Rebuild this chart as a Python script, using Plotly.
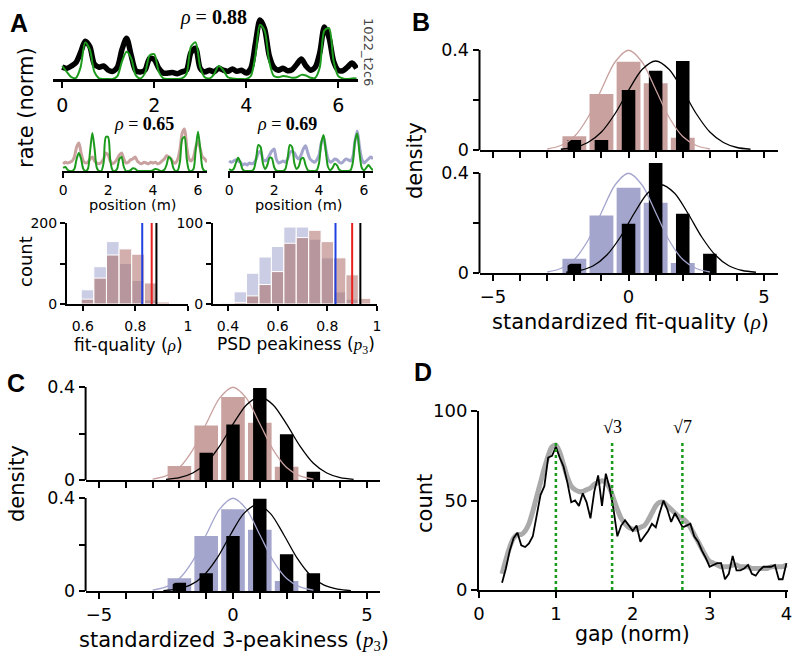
import plotly.graph_objects as go

W, H = 800, 660
FONT = "DejaVu Sans"
SERIF = "Liberation Serif"
GREEN = "#1c9a1c"
BROWN = "#c9a19f"
PURPLE = "#a3a5cd"
HIST_PURPLE = "rgba(150,155,200,0.5)"
HIST_BROWN = "rgba(165,95,90,0.5)"

# ---------------- panel A: rate maps (normalized), position in metres
POS = [0.0, 0.1, 0.2, 0.3, 0.4, 0.5, 0.6, 0.7, 0.8, 0.9,
       1.0, 1.1, 1.2, 1.3, 1.4, 1.5, 1.6, 1.7, 1.8, 1.9,
       2.0, 2.1, 2.2, 2.3, 2.4, 2.5, 2.6, 2.7, 2.8, 2.9,
       3.0, 3.1, 3.2, 3.3, 3.4, 3.5, 3.6, 3.7, 3.8, 3.9,
       4.0, 4.1, 4.2, 4.3, 4.4, 4.5, 4.6, 4.7, 4.8, 4.9,
       5.0, 5.1, 5.2, 5.3, 5.4, 5.5, 5.6, 5.7, 5.8, 5.9,
       6.0, 6.1, 6.2, 6.3, 6.4]

top_rate = [0.20, 0.18, 0.22, 0.28, 0.45, 0.64, 0.55, 0.25, 0.20, 0.22,
            0.15, 0.13, 0.20, 0.50, 0.69, 0.40, 0.14, 0.12, 0.15, 0.35,
            0.33, 0.18, 0.10, 0.10, 0.11, 0.09, 0.12, 0.15, 0.45, 0.52,
            0.18, 0.12, 0.15, 0.12, 0.18, 0.15, 0.13, 0.17, 0.13, 0.15,
            0.10, 0.18, 0.60, 1.00, 0.85, 0.40, 0.20, 0.15, 0.18, 0.14,
            0.16, 0.25, 0.34, 0.22, 0.15, 0.20, 0.45, 0.88, 0.70, 0.30,
            0.15, 0.14, 0.20, 0.27, 0.18]
top_fit = [0.22, 0.12, 0.03, 0.02, 0.20, 0.62, 0.50, 0.12, 0.01, 0.00,
           0.00, 0.00, 0.05, 0.30, 0.46, 0.35, 0.06, 0.01, 0.10, 0.40,
           0.42, 0.12, 0.01, 0.00, 0.00, 0.00, 0.01, 0.08, 0.55, 0.62,
           0.20, 0.03, 0.01, 0.08, 0.22, 0.15, 0.03, 0.01, 0.00, 0.00,
           0.00, 0.05, 0.40, 0.92, 0.82, 0.30, 0.05, 0.03, 0.05, 0.04,
           0.02, 0.03, 0.07, 0.06, 0.02, 0.02, 0.20, 0.82, 0.86, 0.30,
           0.05, 0.01, 0.00, 0.01, 0.01]

left_rate = [0.18, 0.22, 0.20, 0.22, 0.25, 0.35, 0.60, 0.70, 0.45, 0.25,
             0.20, 0.22, 0.30, 0.35, 0.25, 0.20, 0.18, 0.22, 0.30, 0.45,
             0.40, 0.25, 0.18, 0.22, 0.30, 0.40, 0.45, 0.30, 0.20, 0.22,
             0.28, 0.30, 0.35, 0.25, 0.20, 0.18, 0.22, 0.20, 0.18, 0.22,
             0.20, 0.22, 0.18, 0.20, 0.25, 0.30, 0.38, 0.35, 0.30, 0.22,
             0.20, 0.30, 0.55, 0.95, 1.05, 0.60, 0.30, 0.25, 0.35, 0.60,
             0.75, 0.55, 0.35, 0.30, 0.22]
left_fit = [0.08, 0.10, 0.03, 0.00, 0.00, 0.05, 0.30, 0.45, 0.30, 0.05,
            0.00, 0.05, 0.50, 0.95, 0.55, 0.08, 0.00, 0.00, 0.20, 0.85,
            0.85, 0.25, 0.02, 0.00, 0.05, 0.30, 0.35, 0.10, 0.00, 0.00,
            0.02, 0.07, 0.06, 0.01, 0.00, 0.00, 0.00, 0.00, 0.00, 0.00,
            0.02, 0.05, 0.04, 0.01, 0.00, 0.03, 0.15, 0.35, 0.30, 0.08,
            0.00, 0.02, 0.25, 0.80, 0.85, 0.30, 0.02, 0.00, 0.05, 0.55,
            0.98, 0.55, 0.08, 0.00, 0.00]

right_rate = [0.25, 0.22, 0.25, 0.28, 0.25, 0.22, 0.15, 0.18, 0.15, 0.20,
              0.18, 0.20, 0.30, 0.45, 0.50, 0.30, 0.25, 0.30, 0.40, 0.50,
              0.55, 0.30, 0.20, 0.22, 0.25, 0.22, 0.30, 0.45, 0.50, 0.45,
              0.35, 0.30, 0.40, 0.55, 0.63, 0.45, 0.30, 0.25, 0.22, 0.28,
              0.40, 0.70, 0.85, 0.55, 0.30, 0.22, 0.25, 0.30, 0.28, 0.22,
              0.20, 0.25, 0.30, 0.28, 0.25, 0.35, 0.75, 1.00, 0.60, 0.30,
              0.20, 0.25, 0.30, 0.35, 0.30]
right_fit = [0.05, 0.02, 0.05, 0.20, 0.33, 0.22, 0.04, 0.00, 0.00, 0.00,
             0.00, 0.05, 0.30, 0.65, 0.60, 0.20, 0.05, 0.15, 0.33, 0.32,
             0.10, 0.01, 0.00, 0.00, 0.00, 0.05, 0.30, 0.65, 0.60, 0.20,
             0.05, 0.12, 0.30, 0.33, 0.15, 0.02, 0.00, 0.00, 0.00, 0.02,
             0.20, 0.70, 0.90, 0.50, 0.10, 0.02, 0.08, 0.18, 0.14, 0.03,
             0.00, 0.00, 0.00, 0.00, 0.02, 0.20, 0.75, 0.94, 0.45, 0.08,
             0.02, 0.08, 0.15, 0.08, 0.02]

# fit-quality histograms (counts)
rho_bins = [0.618, 0.666, 0.714, 0.762, 0.810, 0.858, 0.906]
rho_purple = [35, 92, 154, 100, 58, 10, 0]
rho_brown = [12, 64, 121, 136, 123, 52, 5]
rho_marks = [0.826, 0.862, 0.880]

# PSD peakiness histograms (counts)
p3_bins = [0.40, 0.45, 0.50, 0.55, 0.60, 0.65, 0.70, 0.75, 0.80, 0.85, 0.90, 0.95]
p3_purple = [2, 15, 38, 58, 71, 95, 95, 80, 57, 15, 6, 0]
p3_brown = [0, 2, 10, 24, 40, 75, 82, 91, 77, 57, 36, 7]
p3_marks = [0.833, 0.900, 0.933]
mark_colors = ["#2040e0", "#e82020", "#000000"]

# ---------------- panels B, C: standardized scores (density)
shuf_bins = [-2, -1, 0, 1, 2]
real_bins = [-2, -1, 0, 1, 2, 3]
b_top_shuf = [0.055, 0.224, 0.353, 0.267, 0.049]
b_top_real = [0.040, 0.040, 0.240, 0.317, 0.356, 0.0]
b_bot_shuf = [0.057, 0.230, 0.341, 0.281, 0.040]
b_bot_real = [0.037, 0.0, 0.197, 0.440, 0.237, 0.077]
c_top_shuf = [0.060, 0.234, 0.357, 0.246, 0.057]
c_top_real = [0.0, 0.117, 0.239, 0.396, 0.197, 0.036]
c_bot_shuf = [0.055, 0.237, 0.352, 0.263, 0.043]
c_bot_real = [0.036, 0.076, 0.237, 0.397, 0.158, 0.076]

norm_x = [-3, -2.5, -2, -1.5, -1, -0.5, 0, 0.5, 1, 1.5, 2, 2.5, 3]
norm_y = [0.004, 0.018, 0.054, 0.130, 0.242, 0.352, 0.399, 0.352, 0.242, 0.130, 0.054, 0.018, 0.004]
fit_b_top_x = [-2.5, -2, -1.5, -1, -0.5, 0, 0.5, 1, 1.5, 2, 2.5, 3, 3.5, 4, 4.5]
fit_b_top_y = [0.003, 0.010, 0.030, 0.072, 0.145, 0.239, 0.322, 0.356, 0.322, 0.239, 0.145, 0.072, 0.030, 0.010, 0.003]
fit_b_bot_x = [-2.3, -1.8, -1.3, -0.8, -0.3, 0.2, 0.7, 1.2, 1.7, 2.2, 2.7, 3.2, 3.7, 4.2, 4.7]
fit_b_bot_y = [0.003, 0.010, 0.029, 0.072, 0.144, 0.237, 0.319, 0.353, 0.319, 0.237, 0.144, 0.072, 0.029, 0.010, 0.003]
fit_c_top_x = [-2.5, -2, -1.5, -1, -0.5, 0, 0.5, 1, 1.5, 2, 2.5, 3, 3.5, 4, 4.5]
fit_c_top_y = [0.003, 0.010, 0.030, 0.072, 0.146, 0.240, 0.323, 0.357, 0.323, 0.240, 0.146, 0.072, 0.030, 0.010, 0.003]
fit_c_bot_x = [-2.6, -2.1, -1.6, -1.1, -0.6, -0.1, 0.4, 0.9, 1.4, 1.9, 2.4, 2.9, 3.4, 3.9, 4.4]
fit_c_bot_y = [0.002, 0.008, 0.025, 0.066, 0.140, 0.241, 0.333, 0.371, 0.333, 0.241, 0.140, 0.066, 0.025, 0.008, 0.002]

# ---------------- panel D: gap distribution
gap = [0.30, 0.35, 0.40, 0.45, 0.50, 0.55, 0.60, 0.65, 0.70, 0.75,
       0.80, 0.85, 0.90, 0.95, 1.00, 1.05, 1.10, 1.15, 1.20, 1.25,
       1.30, 1.35, 1.40, 1.45, 1.50, 1.55, 1.60, 1.65, 1.70, 1.75,
       1.80, 1.85, 1.90, 1.95, 2.00, 2.05, 2.10, 2.15, 2.20, 2.25,
       2.30, 2.35, 2.40, 2.45, 2.50, 2.55, 2.60, 2.65, 2.70, 2.75,
       2.80, 2.85, 2.90, 2.95, 3.00, 3.05, 3.10, 3.15, 3.20, 3.25,
       3.30, 3.35, 3.40, 3.45, 3.50, 3.55, 3.60, 3.65, 3.70, 3.75,
       3.80, 3.85, 3.90, 3.95, 4.00]
gap_count = [4, 12, 22, 29, 32, 25, 24, 26, 30, 41,
             53, 58, 74, 75, 80, 74, 69, 60, 49, 50,
             47, 54, 49, 40, 55, 64, 47, 65, 57, 45,
             30, 36, 39, 36, 33, 36, 27, 30, 33, 37,
             35, 43, 50, 45, 38, 43, 39, 35, 36, 37,
             30, 27, 22, 18, 13, 14, 15, 15, 6, 9,
             19, 11, 11, 12, 14, 9, 8, 11, 13, 13,
             13, 14, 6, 6, 15]
gap_smooth = [9, 17, 24, 29, 31, 31, 33, 37, 44, 52,
              60, 68, 75, 80, 81, 77, 70, 63, 58, 56,
              55, 55, 56, 57, 59, 60, 61, 60, 57, 51,
              45, 40, 37, 35, 34, 34, 35, 36, 39, 43,
              47, 49, 49, 47, 45, 43, 41, 40, 38, 35,
              31, 27, 23, 19, 16, 15, 14, 13, 13, 13,
              14, 14, 13, 13, 13, 12, 12, 12, 12, 12,
              13, 13, 13, 13, 14]
lattice_gaps = [1.0, 1.732, 2.646]
lattice_labels = ["", "√3", "√7"]
lattice_top = 83


def px(x):
    return x / W


def py(y):
    return 1 - y / H


fig = go.Figure()
axes = {}


def ref(n):
    s = "" if n == 1 else str(n)
    return "x" + s, "y" + s


def set_axes(n, xa, ya):
    s = "" if n == 1 else str(n)
    xa.setdefault("anchor", "y" + s)
    ya.setdefault("anchor", "x" + s)
    axes["xaxis" + s] = xa
    axes["yaxis" + s] = ya


def axis(domain, rng, size=18, **kw):
    d = dict(domain=domain, range=rng, showgrid=False, zeroline=False, showline=True,
             linecolor="black", linewidth=2, ticks="outside", ticklen=6, tickwidth=2,
             tickcolor="black", tickfont=dict(family=FONT, size=size, color="black"),
             automargin=False)
    d.update(kw)
    return d


def hidden(domain, rng):
    return dict(domain=domain, range=rng, visible=False, automargin=False)


def line(n, x, y, color, width, shape="spline", dash="solid"):
    xr, yr = ref(n)
    fig.add_trace(go.Scatter(x=x, y=y, mode="lines", xaxis=xr, yaxis=yr,
                             line=dict(color=color, width=width, shape=shape, dash=dash,
                                       smoothing=0.8 if shape == "spline" else None),
                             hoverinfo="skip"))


def bars(n, x, y, color, width, line_color=None):
    xr, yr = ref(n)
    fig.add_trace(go.Bar(x=x, y=y, width=width, xaxis=xr, yaxis=yr, marker_color=color,
                         marker_line=dict(color=line_color or color, width=1 if line_color else 0),
                         hoverinfo="skip"))


def text(s, x, y, size=21, angle=0, family=FONT, color="black", xanchor="center"):
    fig.add_annotation(text=s, x=px(x), y=py(y), xref="paper", yref="paper", showarrow=False,
                       textangle=angle, font=dict(family=family, size=size, color=color),
                       xanchor=xanchor, yanchor="middle")


# A top
set_axes(1, axis([px(53), px(358)], [-0.2, 6.43], size=19, linewidth=2.5,
                 tickvals=[0, 2, 4, 6], ticklabelstandoff=1),
         hidden([py(79), py(17)], [0, 1.05]))
line(1, POS, top_rate, "black", 5.5)
line(1, POS, top_fit, GREEN, 2)

# A middle
for n, rate, fit, col in [(2, left_rate, left_fit, BROWN), (3, right_rate, right_fit, PURPLE)]:
    x0 = 62 if n == 2 else 228
    set_axes(n, axis([px(x0), px(x0 + 145)], [-0.05, 6.4], size=14, ticklen=5,
                     tickvals=[0, 2, 4, 6]),
             hidden([py(171), py(127)], [0, 1.1]))
    line(n, POS, rate, col, 3)
    line(n, POS, fit, GREEN, 2)

# A histograms
set_axes(4, axis([px(67), px(188)], [0.54, 1.0], size=14, ticklen=5,
                 tickvals=[0.6, 0.8, 1.0], ticktext=["0.6", "0.8", "1"], ticklabelstandoff=3),
         axis([py(304), py(223)], [0, 200], size=14, ticklen=5,
              tickvals=[0, 100, 200], ticktext=["0", "", "200"]))
bars(4, rho_bins, rho_purple, HIST_PURPLE, 0.048, "white")
bars(4, rho_bins, rho_brown, HIST_BROWN, 0.048, "white")
for v, c in zip(rho_marks, mark_colors):
    line(4, [v, v], [0, 200], c, 2, shape="linear")

set_axes(5, axis([px(213), px(377)], [0.34, 1.0], size=14, ticklen=5,
                 tickvals=[0.4, 0.6, 0.8, 1.0], ticktext=["0.4", "0.6", "0.8", "1"],
                 ticklabelstandoff=3),
         axis([py(304), py(223)], [0, 100], size=14, ticklen=5,
              tickvals=[0, 50, 100], ticktext=["0", "", "100"]))
bars(5, p3_bins, p3_purple, HIST_PURPLE, 0.05, "white")
bars(5, p3_bins, p3_brown, HIST_BROWN, 0.05, "white")
for v, c in zip(p3_marks, mark_colors):
    line(5, [v, v], [0, 100], c, 2, shape="linear")

# B and C density panels
ticks11 = [-5, -4, -3, -2, -1, 0, 1, 2, 3, 4, 5]
labels11 = ["−5", "", "", "", "", "0", "", "", "", "", "5"]
density_panels = [
    (6, [479.5, 777.6], [150, 37.5], b_top_shuf, b_top_real, BROWN, fit_b_top_x, fit_b_top_y, False),
    (7, [479.5, 777.6], [273, 160.5], b_bot_shuf, b_bot_real, PURPLE, fit_b_bot_x, fit_b_bot_y, True),
    (8, [85.6, 380.4], [480, 375.4], c_top_shuf, c_top_real, BROWN, fit_c_top_x, fit_c_top_y, False),
    (9, [85.6, 380.4], [591, 486.4], c_bot_shuf, c_bot_real, PURPLE, fit_c_bot_x, fit_c_bot_y, True),
]
for n, xd, yd, shuf, real, col, fx, fy, lab in density_panels:
    set_axes(n, axis([px(xd[0]), px(xd[1])], [-5.5, 5.5], tickvals=ticks11,
                     ticktext=labels11, showticklabels=lab),
             axis([py(yd[0]), py(yd[1])], [0, 0.45], showline=False, size=17.5,
                  tickvals=[0, 0.2, 0.4], ticktext=["0", "", "0.4"]))
    bars(n, shuf_bins, shuf, col, 0.88)
    bars(n, real_bins, real, "black", 0.5)
    line(n, norm_x, norm_y, col, 1.3)
    line(n, fx, fy, "black", 1.3)
    fig.add_shape(type="line", xref=f"x{n} domain", yref=f"y{n}", x0=0, x1=0, y0=0, y1=0.4,
                  line=dict(color="black", width=2))

# D
set_axes(10, axis([px(479), px(788)], [0, 4.02], tickvals=[0, 1, 2, 3, 4]),
         axis([py(590), py(411)], [0, 100], tickvals=[0, 50, 100]))
line(10, gap, gap_smooth, "#aaaaaa", 5)
line(10, gap, gap_count, "black", 1.8, shape="linear")
for g, lbl in zip(lattice_gaps, lattice_labels):
    line(10, [g, g], [0, lattice_top], GREEN, 2.5, shape="linear", dash="dot")
    if lbl:
        fig.add_annotation(text=lbl, x=g, y=lattice_top + 8, xref="x10", yref="y10",
                           showarrow=False, font=dict(family=SERIF, size=18, color="black"))

# labels
for s, x, y in [("A", 8, 23), ("B", 410, 22), ("C", 5, 383), ("D", 412, 372)]:
    text(f"<b>{s}</b>", x, y, size=25, family="Liberation Sans", xanchor="left")

rho = f"<span style='font-family:{SERIF}'><i>ρ</i></span>"
p3 = f"<span style='font-family:{SERIF}'><i>p</i><sub>3</sub></span>"
text("rate (norm)", 26, 108, size=21, angle=-90)
text("<i>ρ</i> = <b>0.88</b>", 213, 18, size=20, family=SERIF)
text("1022_t2c6", 368, 52, size=13, angle=90, color="#444444")
text("<i>ρ</i> = <b>0.65</b>", 144, 124, size=18, family=SERIF)
text("<i>ρ</i> = <b>0.69</b>", 287, 124, size=18, family=SERIF)
text("position (m)", 132, 205, size=14.5)
text("position (m)", 298, 205, size=14.5)
text("count", 25, 262, size=18, angle=-90)
text(f"fit-quality ({rho})", 128, 345, size=17)
text(f"PSD peakiness ({p3})", 296, 345, size=17)
text("density", 415, 161, size=21, angle=-90)
text(f"standardized fit-quality ({rho})", 630, 322, size=21)
text("density", 17, 484, size=21, angle=-90)
text(f"standardized 3-peakiness ({p3})", 234, 641, size=21)
text("count", 425, 504, size=21, angle=-90)
text("gap (norm)", 632, 634, size=20.5)

fig.update_layout(width=W, height=H, margin=dict(l=0, r=0, t=0, b=0),
                  plot_bgcolor="white", paper_bgcolor="white", showlegend=False,
                  barmode="overlay", font=dict(family=FONT, color="black"), **axes)

# the page body has a default 8px margin; drop it so the figure sits at the origin
fig.write_html("out.html", config={"displayModeBar": False},
               post_script="document.body.style.margin='0px';")
